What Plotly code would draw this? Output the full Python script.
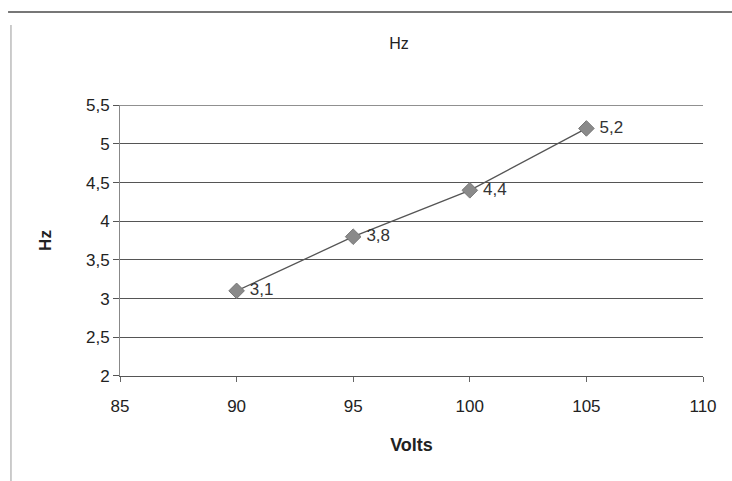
import plotly.graph_objects as go

volts = [90, 95, 100, 105]
hz = [3.1, 3.8, 4.4, 5.2]
labels = ["3,1", "3,8", "4,4", "5,2"]
x_ticks = [85, 90, 95, 100, 105, 110]
y_ticks = [2, 2.5, 3, 3.5, 4, 4.5, 5, 5.5]

fig = go.Figure()
fig.add_trace(go.Scatter(
    x=volts, y=hz, mode="lines+markers+text",
    text=[" " + t for t in labels], textposition="middle right",
    textfont=dict(family="Liberation Sans, Arial", size=17, color="#333"),
    line=dict(color="#555", width=1.3),
    marker=dict(symbol="diamond", size=12, color="#8a8a8a",
                line=dict(color="#777", width=1)),
    cliponaxis=False, showlegend=False,
))

fig.update_layout(
    width=732, height=481,
    margin=dict(l=120, r=29, t=105, b=105),
    paper_bgcolor="white", plot_bgcolor="white",
    separators=",.",
    font=dict(family="Liberation Sans, Arial", size=17, color="#222"),
    title=dict(text="Hz", x=0.545, xanchor="center", y=0.91, yanchor="middle",
               font=dict(size=16, color="#222")),
    xaxis=dict(range=[85, 110], tickvals=x_ticks, showgrid=False,
               showline=True, linecolor="#555", linewidth=1,
               ticks="outside", ticklen=5, tickcolor="#666",
               ticklabelstandoff=10,
               zeroline=False,
               title=dict(text="<b>Volts</b>", standoff=22,
                          font=dict(size=18, color="#222"))),
    yaxis=dict(range=[1.999, 5.503], tickvals=y_ticks, showgrid=True,
               gridcolor="#555", gridwidth=1,
               showline=True, linecolor="#888", linewidth=1,
               ticks="outside", ticklen=6, tickcolor="#555",
               zeroline=False,
               title=dict(text="<b>Hz</b>", standoff=30,
                          font=dict(size=17, color="#222"))),
    shapes=[
        dict(type="line", xref="paper", yref="y", x0=0, x1=1,
             y0=y_ticks[-1], y1=y_ticks[-1],
             line=dict(color="#666", width=1)),
        dict(type="line", xref="paper", yref="paper", x0=-0.192, x1=1.05,
             y0=1.0 + 93/271, y1=1.0 + 93/271,
             line=dict(color="#777", width=2)),
        dict(type="line", xref="paper", yref="paper", x0=-0.187, x1=-0.187,
             y0=-105/271, y1=1.0 + 80/271,
             line=dict(color="#999", width=1)),
    ],
)

fig.write_html("out.html")
